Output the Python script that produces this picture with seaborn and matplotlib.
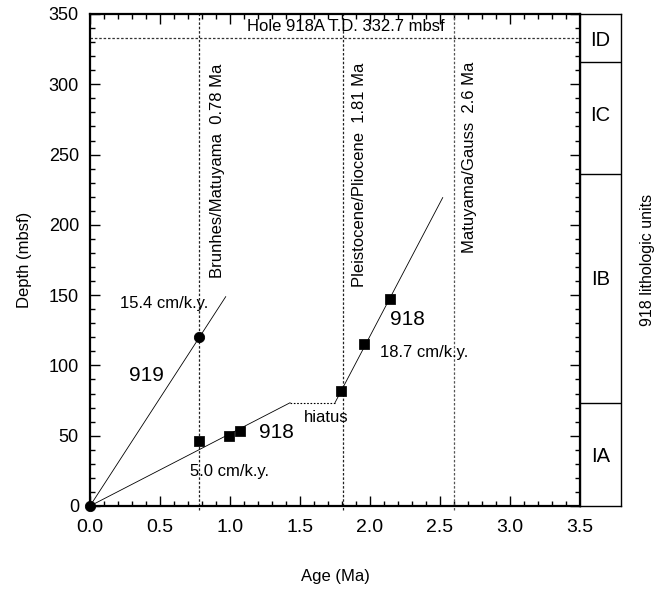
import numpy as np
import pandas as pd
import seaborn as sns
import matplotlib.pyplot as plt

# age (Ma) / depth (mbsf) control points
age_918 = [0.0, 0.78, 0.99, 1.07, 1.79, 1.96, 2.14]
depth_918 = [0.0, 46, 49.5, 53, 81.5, 115.5, 147]
age_919 = [0.0, 0.78]
depth_919 = [0.0, 120.5]

# sedimentation-rate lines
rate919_x = [0.0, 0.97]
rate919_y = [0.0, 149]
rate918a_x = [0.0, 1.43]
rate918a_y = [0.0, 73.5]
hiatus_x = [1.43, 1.75]
hiatus_y = [73.5, 73.5]
rate918b_x = [1.75, 2.52]
rate918b_y = [73.5, 219.5]

# boundaries
boundary_ages = [0.78, 1.81, 2.6]
boundary_names = ["Brunhes/Matuyama  0.78 Ma", "Pleistocene/Pliocene  1.81 Ma", "Matuyama/Gauss  2.6 Ma"]
hole_td = 332.7

# lithologic units
unit_names = ["IA", "IB", "IC", "ID"]
unit_bounds = [73.4, 236, 316]
unit_label_depth = [35, 161, 278, 331]

sns.set_style("ticks")
plt.rcParams['font.family'] = ['Liberation Sans', 'DejaVu Sans']
plt.rcParams.update({"text.color": "black", "axes.labelcolor": "black",
                     "xtick.color": "black", "ytick.color": "black",
                     "axes.edgecolor": "black"})

fig = plt.figure(figsize=(6.67, 5.91), dpi=100)
ax = fig.add_axes([90/667, 1-506/591, 490/667, 492/591])
ax2 = fig.add_axes([580/667, 1-506/591, 41/667, 492/591])

dot = (0, (2, 1.5))
for a in boundary_ages:
    ax.plot([a, a], [-3, 350], color="#555555" if a == 2.6 else "#222222",
            lw=0.9, ls=dot, clip_on=False, zorder=1)
ax.plot([0, 3.5], [hole_td, hole_td], color="#333333", lw=0.9, ls=dot, zorder=1)

sns.lineplot(x=rate919_x, y=rate919_y, ax=ax, color="black", lw=0.6, sort=False, estimator=None)
sns.lineplot(x=rate918a_x, y=rate918a_y, ax=ax, color="black", lw=0.6, sort=False, estimator=None)
sns.lineplot(x=rate918b_x, y=rate918b_y, ax=ax, color="black", lw=0.6, sort=False, estimator=None)
ax.plot(hiatus_x, hiatus_y, color="black", lw=0.8, ls=(0, (1.5, 1.5)))

sns.scatterplot(x=age_918[1:], y=depth_918[1:], ax=ax, marker="s", s=45, color="black",
                edgecolor="black", zorder=5, clip_on=False)
sns.scatterplot(x=age_919, y=depth_919, ax=ax, marker="o", s=55, color="black",
                edgecolor="black", zorder=6, clip_on=False)

ax.set_xlim(0, 3.5)
ax.set_ylim(0, 350)
ax.set_xticks(np.arange(0, 3.51, 0.5))
ax.set_xticks(np.arange(0, 3.51, 0.1), minor=True)
ax.set_yticks(np.arange(0, 351, 50))
ax.set_yticks(np.arange(0, 351, 10), minor=True)
ax.xaxis.set_major_formatter(plt.FuncFormatter(lambda v, p: f"{v:.1f}"))
ax.tick_params(which="both", direction="in", top=True, right=True, width=1)
ax.tick_params(which="major", length=7)
ax.tick_params(which="minor", length=3.5)
ax.tick_params(axis="x", which="major", labelsize=14, pad=9)
ax.tick_params(axis="y", which="major", labelsize=13, pad=8)
for s in ax.spines.values():
    s.set_linewidth(1.6)
ax.set_xlabel("Age (Ma)", fontsize=12, labelpad=24)
ax.set_ylabel("Depth (mbsf)", fontsize=12, labelpad=12)

txt = dict(fontsize=12, color="black")
ax.text(1.825, 341, "Hole 918A T.D. 332.7 mbsf", ha="center", va="center", **txt)
offsets = [(0.914, 162.5), (1.924, 156), (2.714, 180)]
for (tx, ty), name in zip(offsets, boundary_names):
    ax.text(tx, ty, name, rotation=90, ha="center", va="bottom", **txt)
ax.text(0.53, 144, "15.4 cm/k.y.", ha="center", va="center", **txt)
ax.text(0.405, 93, "919", ha="center", va="center", fontsize=15)
ax.text(1.33, 52, "918", ha="center", va="center", fontsize=15)
ax.text(1.0, 24.5, "5.0 cm/k.y.", ha="center", va="center", **txt)
ax.text(1.686, 63, "hiatus", ha="center", va="center", **txt)
ax.text(2.267, 133, "918", ha="center", va="center", fontsize=15)
ax.text(2.386, 109, "18.7 cm/k.y.", ha="center", va="center", **txt)

ax2.set_xlim(0, 1)
ax2.set_ylim(0, 350)
ax2.set_xticks([])
ax2.set_yticks([])
for s in ax2.spines.values():
    s.set_linewidth(1.0)
for b in unit_bounds:
    ax2.axhline(b, color="black", lw=1.0)
for name, d in zip(unit_names, unit_label_depth):
    ax2.text(0.5, d, name, ha="center", va="center", fontsize=14.5)
ax2.yaxis.set_label_position("right")
ax2.set_ylabel("918 lithologic units", fontsize=11.5, rotation=90, labelpad=14)

fig.savefig("out.png", dpi=100)
